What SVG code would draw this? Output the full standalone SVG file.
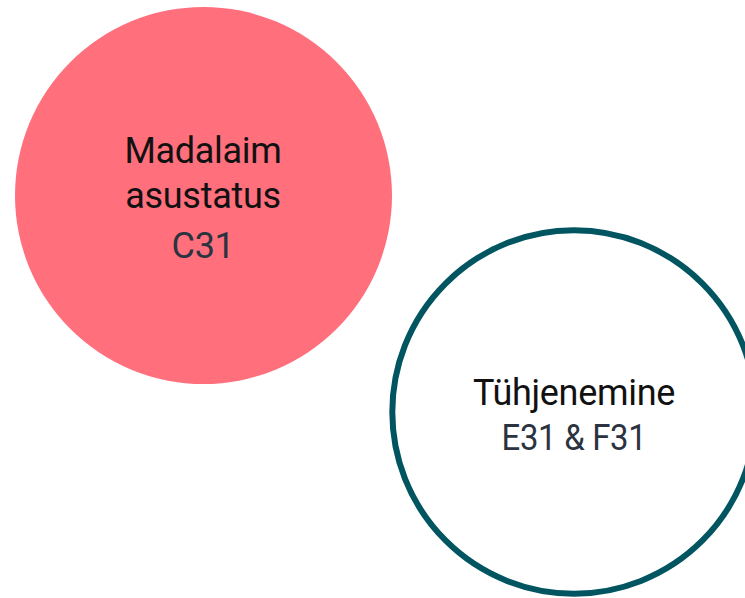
<svg xmlns="http://www.w3.org/2000/svg" width="745" height="598" viewBox="0 0 745 598">
<style>
.t{font-family:Roboto,"Liberation Sans",sans-serif;font-size:36px;text-anchor:middle;letter-spacing:-0.3px}
.a{fill:#111111}
.b{fill:#2b3340}
</style>
<rect width="745" height="598" fill="#ffffff"/>
<g id="node-madalaim">
<circle cx="203.5" cy="195.5" r="188.5" fill="#ff6f7c"/>
<text class="t a" x="203" y="163">Madalaim</text>
<text class="t a" x="203" y="208">asustatus</text>
<text class="t b" x="203" y="258">C31</text>
</g>
<g id="node-tuhjenemine">
<circle cx="574" cy="412" r="181.7" fill="#ffffff" stroke="#005561" stroke-width="6"/>
<text class="t a" x="574" y="405">Tühjenemine</text>
<text class="t b" x="574" y="450" textLength="145" lengthAdjust="spacingAndGlyphs">E31 &amp; F31</text>
</g>
<g id="connectors"/>
</svg>
